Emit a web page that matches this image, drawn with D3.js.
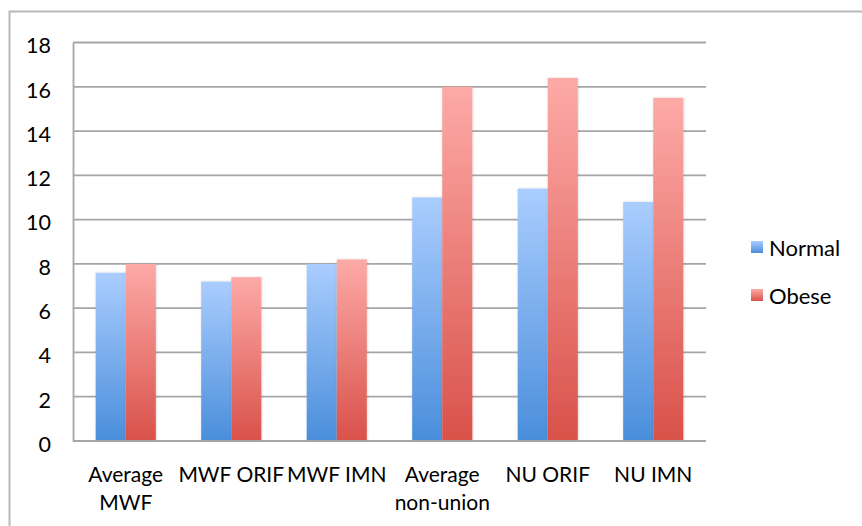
<!DOCTYPE html>
<html>
<head>
<meta charset="utf-8">
<script src="https://cdn.jsdelivr.net/npm/d3@7/dist/d3.min.js"></script>
<style>
  html, body { margin: 0; padding: 0; background: #fff; }
  svg { display: block; font-family: Lato, "Open Sans", sans-serif; }
</style>
</head>
<body>
<svg id="chart" width="862" height="526"></svg>
<script>
// Chart data
const categories = [["Average", "MWF"], ["MWF ORIF"], ["MWF IMN"], ["Average", "non-union"], ["NU ORIF"], ["NU IMN"]];
const seriesNames = ["Normal", "Obese"];
const normalValues = [7.6, 7.2, 8.0, 11.0, 11.4, 10.8];
const obeseValues = [8.0, 7.4, 8.2, 16.0, 16.4, 15.5];
const yTicks = [0, 2, 4, 6, 8, 10, 12, 14, 16, 18];

const seriesValues = [normalValues, obeseValues];
const gradients = [
  { id: "gradNormal", top: "#aacdfe", bottom: "#4a8edb" },
  { id: "gradObese", top: "#fdaaa7", bottom: "#d9514a" }
];

const svg = d3.select("#chart");
const W = 862, H = 526;
const margin = { left: 73, right: W - 706, top: 42.5, bottom: H - 441 };

// Outer frame
svg.append("rect")
  .attr("x", 9.5).attr("y", 11.5)
  .attr("width", W).attr("height", H)
  .attr("fill", "none").attr("stroke", "#b8b8b8").attr("stroke-width", 2);

const defs = svg.append("defs");
gradients.forEach(g => {
  const lg = defs.append("linearGradient").attr("id", g.id)
    .attr("x1", 0).attr("y1", 0).attr("x2", 0).attr("y2", 1);
  lg.append("stop").attr("offset", "0%").attr("stop-color", g.top);
  lg.append("stop").attr("offset", "100%").attr("stop-color", g.bottom);
});
const shadow = defs.append("filter").attr("id", "barShadow")
  .attr("x", "-20%").attr("y", "-5%").attr("width", "140%").attr("height", "110%");
shadow.append("feDropShadow").attr("dx", 0.5).attr("dy", 0).attr("stdDeviation", 1.2)
  .attr("flood-color", "#000").attr("flood-opacity", 0.18);

const x = d3.scaleBand()
  .domain(d3.range(categories.length))
  .range([margin.left, W - margin.right])
  .paddingInner(0.43).paddingOuter(0.215);

const xInner = d3.scaleBand()
  .domain(d3.range(seriesNames.length))
  .range([0, x.bandwidth()]);

const y = d3.scaleLinear().domain([0, 18]).range([H - margin.bottom, margin.top]);

// Gridlines
svg.append("g").selectAll("line").data(yTicks).join("line")
  .attr("x1", margin.left).attr("x2", W - margin.right)
  .attr("y1", d => y(d)).attr("y2", d => y(d))
  .attr("stroke", "#a6a6a6").attr("stroke-width", 1.8);

// Y axis
const yAxis = svg.append("g")
  .attr("transform", `translate(${margin.left},0)`)
  .call(d3.axisLeft(y).tickValues(yTicks).tickSize(0).tickPadding(22));
yAxis.select(".domain").attr("stroke", "#a6a6a6").attr("stroke-width", 1.8);
yAxis.selectAll("text")
  .attr("font-size", 21.5).attr("fill", "#000").attr("dy", "0.48em")
  .style("font-family", "Lato, sans-serif");

// Bars
const groups = svg.append("g").selectAll("g")
  .data(categories.map((c, i) => i)).join("g")
  .attr("transform", i => `translate(${x(i)},0)`);

groups.selectAll("rect")
  .data(i => seriesValues.map((vals, s) => ({ s, v: vals[i] })))
  .join("rect")
  .attr("x", d => xInner(d.s))
  .attr("y", d => y(d.v))
  .attr("width", xInner.bandwidth())
  .attr("height", d => y(0) - y(d.v))
  .attr("fill", d => `url(#${gradients[d.s].id})`)
  .attr("filter", "url(#barShadow)");

// Zero line drawn above bars
svg.append("line")
  .attr("x1", margin.left).attr("x2", W - margin.right)
  .attr("y1", y(0)).attr("y2", y(0))
  .attr("stroke", "#a6a6a6").attr("stroke-width", 1.8);

// Category labels
const labels = svg.append("g").selectAll("text")
  .data(categories).join("text")
  .attr("x", (c, i) => x(i) + x.bandwidth() / 2)
  .attr("y", 482)
  .attr("text-anchor", "middle")
  .attr("font-size", 21).attr("fill", "#000");
labels.selectAll("tspan").data(c => c).join("tspan")
  .attr("x", function () { return d3.select(this.parentNode).attr("x"); })
  .attr("dy", (d, k) => k === 0 ? 0 : 28)
  .text(d => d);

// Legend
const legend = svg.append("g").selectAll("g")
  .data(seriesNames).join("g")
  .attr("transform", (d, i) => `translate(751,${241 + i * 48})`);
legend.append("rect")
  .attr("width", 12).attr("height", 12)
  .attr("fill", (d, i) => `url(#${gradients[i].id})`);
legend.append("text")
  .attr("x", 18).attr("y", 15)
  .attr("font-size", 22).attr("fill", "#000")
  .text(d => d);
</script>
</body>
</html>
